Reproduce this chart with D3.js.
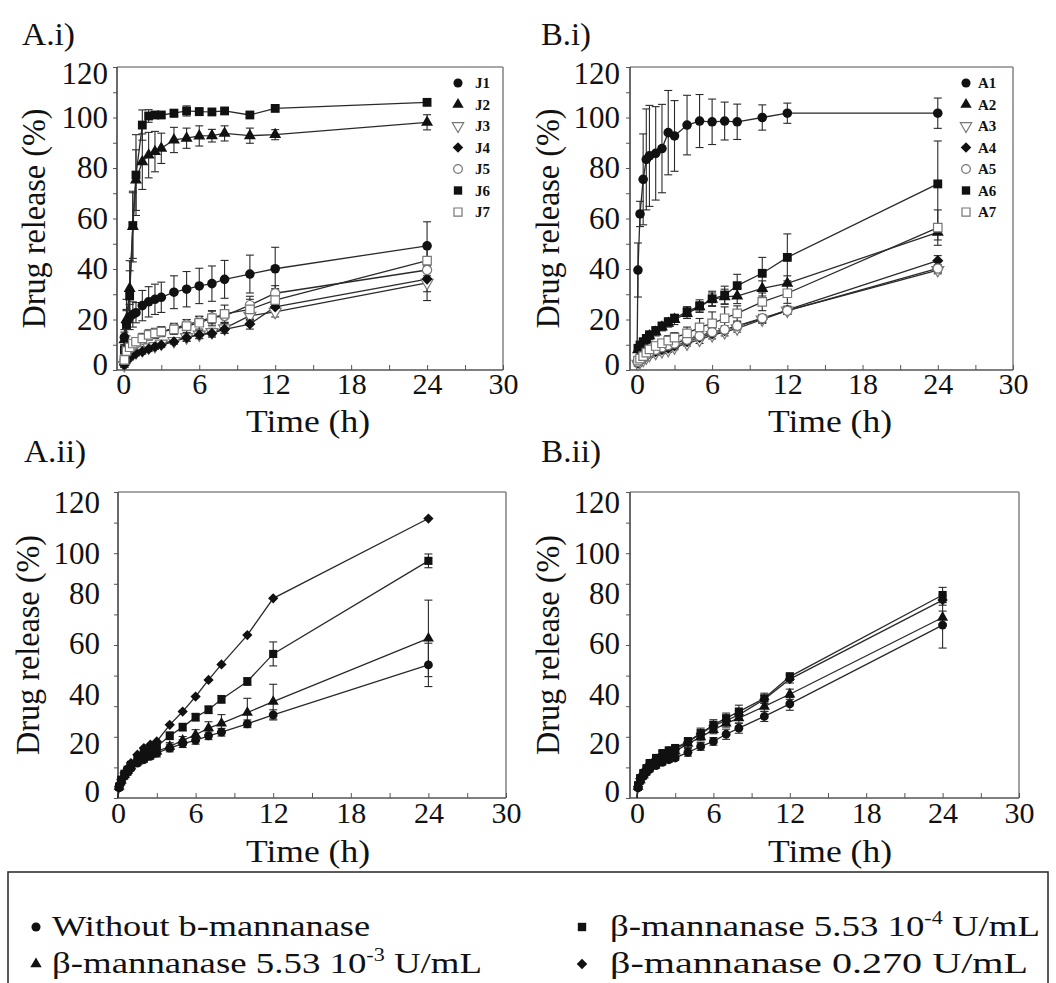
<!DOCTYPE html>
<html>
<head>
<meta charset="utf-8">
<script src="https://cdn.jsdelivr.net/npm/d3@7"></script>
<style>
  body { margin: 0; background: #fff; }
</style>
</head>
<body>
<div id="chart"></div>
<script>
/* global d3 */

//---------------------Data

// sampling times (h), shared by every series
const times = [0, 0.083, 0.25, 0.5, 0.75, 1, 1.5, 2, 2.5, 3, 4, 5, 6, 7, 8, 10, 12, 24]

const xTickValues = [0, 6, 12, 18, 24, 30]
const yTickLabels = ["0", "20", "40", "60", "80", "100", "120"]
// where the printed labels sit (the lower panels have shifted labels)
const yLabelAtTop = [2, 20, 40, 60, 80, 100, 117.5]
const yLabelAtBottom = [2.6, 21.5, 40.6, 60.6, 80.2, 96, 116]

// A.i) formulations J1..J7
const J1 = [0, 13, 18.5, 21, 22, 22.7, 25.5, 27, 28, 28.8, 30.8, 32, 33.3, 34.2, 35.9, 38, 40.1, 49.2]
const J1err = [0, 3, 5, 5, 5, 4, 6, 6, 6, 6, 6.5, 7, 7, 7, 7.5, 7.5, 8.5, 9.5]
const J2 = [0, 12, 20, 32.3, 56.8, 75.2, 82.5, 85.1, 86.5, 87.8, 91.1, 91.8, 92.7, 92.8, 93.7, 92.8, 93.2, 98.1]
const J2err = [0, 3, 8, 11, 14, 12, 11, 9, 8, 6, 5, 4, 4, 2.5, 3, 3, 2, 3]
const J3 = [0, 2, 4, 5.5, 6.5, 7, 8, 9, 9.5, 10.5, 11.5, 13, 14, 15, 16.5, 21.5, 23, 34.5]
const J3err = [0, 1, 1, 1, 1, 1, 1, 1, 1, 1, 1, 1.5, 1.5, 1.5, 2, 2, 2, 7]
const J4 = [0, 2, 3.5, 5, 6, 6.6, 7.3, 8.3, 9.2, 9.9, 11.2, 12.8, 13.9, 14.5, 16.1, 18.2, 25, 36]
const J4err = [0, 1, 1, 1, 1, 1, 1, 1, 1, 1, 1, 1.5, 1.5, 1.5, 1.5, 2, 2, 5]
const J5 = [0, 4, 7, 8.5, 9.5, 10.5, 12, 13.5, 14.5, 15.2, 16.5, 18, 19.3, 20.8, 21.4, 25.7, 30.4, 39.6]
const J5err = [0, 1, 1.5, 1.5, 1.5, 1.5, 1.5, 1.5, 1.5, 1.5, 2, 2, 2, 2.5, 2.5, 3.5, 3, 4]
const J6 = [0, 8, 18, 29.3, 57.2, 77.2, 97, 100.6, 101, 101, 101.7, 102.6, 102.3, 102.2, 102.6, 101, 103.6, 106]
const J6err = [0, 2, 6, 10, 13, 16, 6, 2.5, 1, 1, 1.5, 2, 1.5, 1, 1, 1, 1, 0.5]
const J7 = [0, 4, 7.5, 9, 10.5, 11.2, 12.5, 13.9, 14.5, 15.2, 16.1, 17.4, 18.7, 20.5, 22.2, 24, 27.7, 43.3]
const J7err = [0, 1, 1.5, 1.5, 1.5, 1.5, 2, 2, 2, 2, 2, 2.5, 2.5, 3, 3.5, 4, 4.5, 6]

// B.i) formulations A1..A7
const A1 = [0, 39.6, 61.8, 75.5, 83.4, 84.8, 85.8, 87.7, 94, 92.7, 97, 98.6, 98.3, 98.6, 98.3, 100, 101.7, 101.7]
const A1err = [0, 10.7, 5, 18, 20, 20, 18.5, 17.5, 16.7, 14, 11.8, 10.5, 9, 7.5, 7, 5, 4, 6]
const A2 = [0, 8, 9.5, 11, 12, 13.5, 15, 17, 18.5, 20, 22.4, 25, 28, 29, 29.3, 32.3, 34.3, 54.5]
const A2err = [0, 1, 1, 1, 1.5, 1.5, 1.5, 1.5, 1.5, 2, 2, 2, 2.5, 3, 3, 3, 3, 3]
const A3 = [0, 2.5, 3.3, 4, 5, 6, 6.8, 7.5, 8, 9, 10.5, 12, 13.8, 15, 16.5, 20, 23.5, 39.6]
const A3err = [0, 1, 1, 1, 1, 1, 1, 1, 1, 1, 1, 1.5, 1.5, 1.5, 1.5, 1.5, 1.5, 1.5]
const A4 = [0, 2.8, 3.7, 4.5, 5.5, 6.5, 7.3, 8, 8.6, 9.5, 11.2, 12.9, 14.3, 15.6, 17.4, 20.2, 23.8, 43.3]
const A4err = [0, 1, 1, 1, 1, 1, 1, 1, 1, 1, 1, 1, 1, 1, 1.5, 1.5, 1.5, 2]
const A5 = [0, 3.2, 4, 5, 6, 7, 8, 9, 9.8, 10.5, 12, 13.5, 15, 16, 17.5, 20.5, 23.5, 40.2]
const A5err = [0, 1, 1, 1, 1, 1, 1, 1, 1, 1, 1, 1, 1.5, 1.5, 1.5, 1.5, 1.5, 1.5]
const A6 = [0, 8.6, 9.9, 11.2, 12.5, 13.9, 15.6, 17.4, 19.1, 20.5, 23.1, 25.3, 28.2, 29.7, 33.4, 38.3, 44.6, 73.7]
const A6err = [0, 1, 1, 1, 1, 1.5, 1.5, 1.5, 1.5, 1.5, 2, 2.5, 3, 3.5, 4.5, 6.3, 9.3, 17]
const A7 = [0, 3.7, 4.5, 5.5, 6.9, 8.2, 9.5, 10.6, 11.6, 12.8, 14.5, 16.9, 18.5, 20.5, 22.4, 27, 30.4, 56.4]
const A7err = [0, 1, 1, 1, 1.5, 1.5, 1.5, 1.5, 2, 2, 2.5, 3.5, 4.5, 4.5, 3, 3.5, 4, 7]

// A.ii) J formulation with enzyme
const AiiNone = [0, 4, 6.1, 8.5, 10, 11.7, 13.7, 15, 16.3, 17.6, 19.6, 21.3, 22.6, 24.4, 25.8, 29.1, 32.6, 52.2]
const AiiNoneErr = [0, 1, 1, 1, 1, 1, 1, 1, 1, 1.5, 1.5, 1.5, 1.5, 1.5, 1.5, 1.5, 2, 8.5]
const AiiLow = [0, 4.5, 6.9, 9.1, 10.8, 12.4, 14.3, 15.9, 17, 18.3, 20.2, 22.6, 24.8, 27.4, 29.3, 33.5, 37.8, 62.6]
const AiiLowErr = [0, 1, 1, 1, 1, 1, 1, 1, 1, 1.5, 1.5, 1.5, 2, 2.5, 3.4, 5.6, 6.8, 15]
const AiiMid = [0, 4.5, 7.2, 9.5, 11.1, 13, 15.7, 17.9, 18.9, 20.2, 24.4, 27.8, 31.7, 34.6, 38.7, 45.7, 56.5, 93]
const AiiMidErr = [0, 1, 1, 1, 1, 1, 1, 1, 1, 1, 1.5, 1.5, 1.5, 1.5, 1.5, 1.5, 4.7, 2.7]
const AiiHigh = [0, 4.5, 7.2, 9.8, 11.7, 13.7, 17, 19.6, 20.9, 22.2, 28.7, 33.9, 39.8, 46.3, 52.4, 63.9, 78.3, 109.6]
const AiiHighErr = [0, 0.5, 0.5, 0.5, 0.5, 0.5, 0.5, 0.5, 0.5, 0.5, 0.5, 0.5, 0.5, 0.5, 0.5, 0.5, 0.5, 0.5]

// B.ii) A formulation with enzyme
const BiiNone = [0, 4, 6.5, 8.5, 10, 11.3, 12.7, 14, 15, 15.7, 17.9, 20.2, 22.2, 25, 27.4, 32, 36.9, 67.8]
const BiiNoneErr = [0, 1, 1, 1, 1, 1, 1, 1, 1, 1, 1.5, 1.5, 1.5, 2, 2, 2, 2.5, 9]
const BiiLow = [0, 4.5, 7, 9, 11, 13, 14.5, 16.3, 17.3, 18.3, 21.3, 23.9, 26.7, 29.3, 31.3, 35.9, 40.7, 70.8]
const BiiLowErr = [0, 1, 1, 1, 1, 1, 1, 1, 1, 1, 1.5, 1.5, 1.5, 1.5, 2, 2, 2, 2.5]
const BiiMid = [0, 5, 7.8, 9.8, 11.7, 13.7, 15.7, 17.6, 18.7, 19.6, 22.2, 25.4, 28.7, 31.3, 33.9, 39.1, 47.6, 79.6]
const BiiMidErr = [0, 1, 1, 1, 1, 1, 1, 1, 1, 1, 1.5, 2, 2, 2, 2.5, 2, 1.5, 3]
const BiiHigh = [0, 4.5, 7.5, 9.5, 11.5, 13.3, 15.3, 17.2, 18.3, 19.2, 21.9, 25.2, 28.3, 30.4, 32.6, 38.7, 46.6, 77.6]
const BiiHighErr = [0, 1, 1, 1, 1, 1, 1, 1, 1, 1, 1, 1.5, 1.5, 1.5, 1.5, 1.5, 1.5, 2]

const legendItems = ["Without b-mannanase", "β-mannanase 5.53 10", "β-mannanase 5.53 10", "β-mannanase 0.270 U/mL"]


//----------------------Styles

const FONT = "'Palatino Linotype', 'Book Antiqua', Palatino, 'Liberation Serif', serif"
const FILL = "#111"
const OPEN = "#777"

const marks = {
  circle:  { type: d3.symbolCircle,   rot: 0,   size: 72, fill: FILL },
  tri:     { type: d3.symbolTriangle, rot: 0,   size: 62, fill: FILL },
  triDown: { type: d3.symbolTriangle, rot: 180, size: 62, fill: "#fff", stroke: OPEN },
  diamond: { type: d3.symbolSquare,   rot: 45,  size: 62, fill: FILL },
  oCircle: { type: d3.symbolCircle,   rot: 0,   size: 66, fill: "#fff", stroke: OPEN },
  square:  { type: d3.symbolSquare,   rot: 0,   size: 78, fill: FILL },
  oSquare: { type: d3.symbolSquare,   rot: 0,   size: 72, fill: "#fff", stroke: OPEN }
}

//----------------------Panels

const panels = [
  {
    tag: "A.i)", tagX: 22, tagY: 45, tagLen: 53,
    left: 117, right: 503, top: 67, bottom: 370, xMin: -0.5,
    labelAt: yLabelAtTop, yMinor: d3.range(0, 121, 10), yPad: 9,
    yTitleX: 45, xTitleX: 308, xTitleY: 432, xPad: 3,
    series: [
      { name: "J1", v: J1, e: J1err, m: "circle" },
      { name: "J2", v: J2, e: J2err, m: "tri" },
      { name: "J3", v: J3, e: J3err, m: "triDown" },
      { name: "J4", v: J4, e: J4err, m: "diamond" },
      { name: "J5", v: J5, e: J5err, m: "oCircle" },
      { name: "J6", v: J6, e: J6err, m: "square" },
      { name: "J7", v: J7, e: J7err, m: "oSquare" }
    ],
    legend: { x: 458, tx: 475, y: 83, step: 21.5 }
  },
  {
    tag: "B.i)", tagX: 541, tagY: 45, tagLen: 50,
    left: 630, right: 1013, top: 67, bottom: 370, xMin: -0.55,
    labelAt: yLabelAtTop, yMinor: d3.range(0, 121, 10), yPad: 10,
    yTitleX: 559, xTitleX: 830, xTitleY: 432, xPad: 3,
    series: [
      { name: "A1", v: A1, e: A1err, m: "circle" },
      { name: "A2", v: A2, e: A2err, m: "tri" },
      { name: "A3", v: A3, e: A3err, m: "triDown" },
      { name: "A4", v: A4, e: A4err, m: "diamond" },
      { name: "A5", v: A5, e: A5err, m: "oCircle" },
      { name: "A6", v: A6, e: A6err, m: "square" },
      { name: "A7", v: A7, e: A7err, m: "oSquare" }
    ],
    legend: { x: 966, tx: 978, y: 83, step: 21.5 }
  },
  {
    tag: "A.ii)", tagX: 24, tagY: 462, tagLen: 62,
    left: 118, right: 506, top: 492, bottom: 798, xMin: 0,
    labelAt: yLabelAtBottom, yMinor: d3.range(0, 121, 12), yPad: 18,
    yTitleX: 39, xTitleX: 308, xTitleY: 862, xPad: 4,
    series: [
      { v: AiiNone, e: AiiNoneErr, m: "circle", s: 0.85 },
      { v: AiiLow, e: AiiLowErr, m: "tri", s: 0.85 },
      { v: AiiMid, e: AiiMidErr, m: "square", s: 0.85 },
      { v: AiiHigh, e: AiiHighErr, m: "diamond", s: 0.85 }
    ]
  },
  {
    tag: "B.ii)", tagX: 541, tagY: 462, tagLen: 60,
    left: 630, right: 1019, top: 492, bottom: 798, xMin: -0.55,
    labelAt: yLabelAtBottom, yMinor: d3.range(0, 121, 12), yPad: 10,
    yTitleX: 559, xTitleX: 830, xTitleY: 862, xPad: 4,
    series: [
      { v: BiiNone, e: BiiNoneErr, m: "circle", s: 0.85 },
      { v: BiiLow, e: BiiLowErr, m: "tri", s: 0.85 },
      { v: BiiHigh, e: BiiHighErr, m: "diamond", s: 0.85 },
      { v: BiiMid, e: BiiMidErr, m: "square", s: 0.85 }
    ]
  }
]

const svg = d3.select("#chart")
  .append("svg")
  .attr("width", 1056)
  .attr("height", 983)
  .style("font-family", FONT)

function drawMarker (g, key, cx, cy, scale = 1) {
  const mk = marks[key]
  g.append("path")
    .attr("d", d3.symbol().type(mk.type).size(mk.size * scale)())
    .attr("transform", `translate(${cx},${cy}) rotate(${mk.rot})`)
    .attr("fill", mk.fill)
    .attr("stroke", mk.stroke || "none")
    .attr("stroke-width", mk.stroke ? 1.2 : 0)
}

function drawPanel (p) {
  const g = svg.append("g")

  const xScale = d3.scaleLinear().domain([p.xMin, 30]).range([p.left, p.right])
  const yScale = d3.scaleLinear().domain([0, 120]).range([p.bottom, p.top])

  // frame: top and right lighter
  g.append("line").attr("x1", p.left).attr("x2", p.right).attr("y1", p.top).attr("y2", p.top)
    .attr("stroke", "#8a8a8a").attr("stroke-width", 1.6)
  g.append("line").attr("x1", p.right).attr("x2", p.right).attr("y1", p.top).attr("y2", p.bottom)
    .attr("stroke", "#8a8a8a").attr("stroke-width", 1.6)

  // y ticks (outward) and labels
  g.append("g")
    .attr("transform", `translate(${p.left},0)`)
    .call(d3.axisLeft(yScale).tickValues(p.yMinor).tickSize(4).tickFormat(""))
    .call(a => a.select(".domain").remove())
    .call(a => a.selectAll("line").attr("stroke", "#555"))

  g.append("g")
    .attr("transform", `translate(${p.left},0)`)
    .call(d3.axisLeft(yScale).tickValues(p.labelAt).tickSize(0).tickPadding(p.yPad)
      .tickFormat((d, i) => yTickLabels[i]))
    .call(a => a.select(".domain").remove())
    .attr("font-family", null)
    .call(a => a.selectAll("text").style("font-family", FONT).style("font-size", "31px").attr("fill", "#111"))

  // x ticks (inward) and labels
  g.append("g")
    .attr("transform", `translate(0,${p.bottom})`)
    .call(d3.axisBottom(xScale).tickValues(d3.range(0, 31, 3)).tickSize(-5).tickFormat(""))
    .call(a => a.select(".domain").remove())
    .call(a => a.selectAll("line").attr("stroke", "#555"))

  g.append("g")
    .attr("transform", `translate(0,${p.bottom})`)
    .call(d3.axisBottom(xScale).tickValues(xTickValues).tickSize(0).tickPadding(p.xPad))
    .call(a => a.select(".domain").remove())
    .attr("font-family", null)
    .call(a => a.selectAll("text").style("font-family", FONT).style("font-size", "30px").attr("fill", "#111"))

  // axis lines
  g.append("line").attr("x1", p.left).attr("x2", p.left).attr("y1", p.top).attr("y2", p.bottom)
    .attr("stroke", "#444").attr("stroke-width", 1.6)
  g.append("line").attr("x1", p.left).attr("x2", p.right).attr("y1", p.bottom).attr("y2", p.bottom)
    .attr("stroke", "#555").attr("stroke-width", 1.6)

  // titles
  g.append("text")
    .attr("transform", `translate(${p.yTitleX},${(p.top + p.bottom) / 2}) rotate(-90)`)
    .attr("text-anchor", "middle")
    .attr("textLength", 220)
    .attr("lengthAdjust", "spacingAndGlyphs")
    .style("font-size", "33px")
    .attr("fill", "#111")
    .text("Drug release (%)")

  g.append("text")
    .attr("x", p.xTitleX)
    .attr("y", p.xTitleY)
    .attr("text-anchor", "middle")
    .attr("textLength", 124)
    .attr("lengthAdjust", "spacingAndGlyphs")
    .style("font-size", "31px")
    .attr("fill", "#111")
    .text("Time (h)")

  svg.append("text")
    .attr("x", p.tagX)
    .attr("y", p.tagY)
    .attr("textLength", p.tagLen)
    .attr("lengthAdjust", "spacingAndGlyphs")
    .style("font-size", "32px")
    .attr("fill", "#111")
    .text(p.tag)

  // series
  const lineGenerator = d3.line()
    .x((d, i) => xScale(times[i]))
    .y(d => yScale(d))

  p.series.forEach(s => {
    g.append("path")
      .attr("d", lineGenerator(s.v))
      .attr("fill", "none")
      .attr("stroke", "#2a2a2a")
      .attr("stroke-width", 1.3)
  })

  p.series.forEach(s => {
    const bars = g.append("g").attr("stroke", "#2a2a2a").attr("stroke-width", 1.1)
    s.v.forEach((v, i) => {
      const e = s.e[i]
      if (e < 0.8) return
      const cx = xScale(times[i])
      const y1 = yScale(v + e)
      const y2 = yScale(Math.max(0, v - e))
      bars.append("line").attr("x1", cx).attr("x2", cx).attr("y1", y1).attr("y2", y2)
      bars.append("line").attr("x1", cx - 4).attr("x2", cx + 4).attr("y1", y1).attr("y2", y1)
      bars.append("line").attr("x1", cx - 4).attr("x2", cx + 4).attr("y1", y2).attr("y2", y2)
    })
  })

  p.series.forEach(s => {
    const mg = g.append("g")
    s.v.forEach((v, i) => {
      if (i === 0) return
      drawMarker(mg, s.m, xScale(times[i]), yScale(v), s.s || 1)
    })
  })

  // small legend inside the plot
  if (p.legend) {
    p.series.forEach((s, i) => {
      const cy = p.legend.y + i * p.legend.step
      drawMarker(g, s.m, p.legend.x, cy, 0.9)
      g.append("text")
        .attr("x", p.legend.tx)
        .attr("y", cy + 5)
        .style("font-size", "15px")
        .style("font-weight", "bold")
        .attr("fill", "#111")
        .text(s.name)
    })
  }
}

panels.forEach(drawPanel)

//------------------Bottom legend box

const lg = svg.append("g")

lg.append("rect")
  .attr("x", 8)
  .attr("y", 872)
  .attr("width", 1040)
  .attr("height", 160)
  .attr("fill", "none")
  .attr("stroke", "#333")
  .attr("stroke-width", 1.6)

const legendRows = [
  { m: "circle", x: 36, y: 927, tx: 52, len: 318, text: legendItems[0] },
  { m: "square", x: 582, y: 927, tx: 610, len: 430, text: legendItems[1], sup: "-4", tail: " U/mL" },
  { m: "tri", x: 36, y: 964, tx: 52, len: 430, text: legendItems[2], sup: "-3", tail: " U/mL" },
  { m: "diamond", x: 582, y: 964, tx: 610, len: 418, text: legendItems[3] }
]

legendRows.forEach(r => {
  drawMarker(lg, r.m, r.x, r.y, 0.9)
  const t = lg.append("text")
    .attr("x", r.tx)
    .attr("y", r.y + 9)
    .attr("textLength", r.len)
    .attr("lengthAdjust", "spacingAndGlyphs")
    .attr("fill", "#111")
    .style("font-size", "30px")
  t.append("tspan").text(r.text)
  if (r.sup) {
    t.append("tspan").attr("dy", -12).style("font-size", "18px").text(r.sup)
    t.append("tspan").attr("dy", 12).text(r.tail)
  }
})
</script>
</body>
</html>
